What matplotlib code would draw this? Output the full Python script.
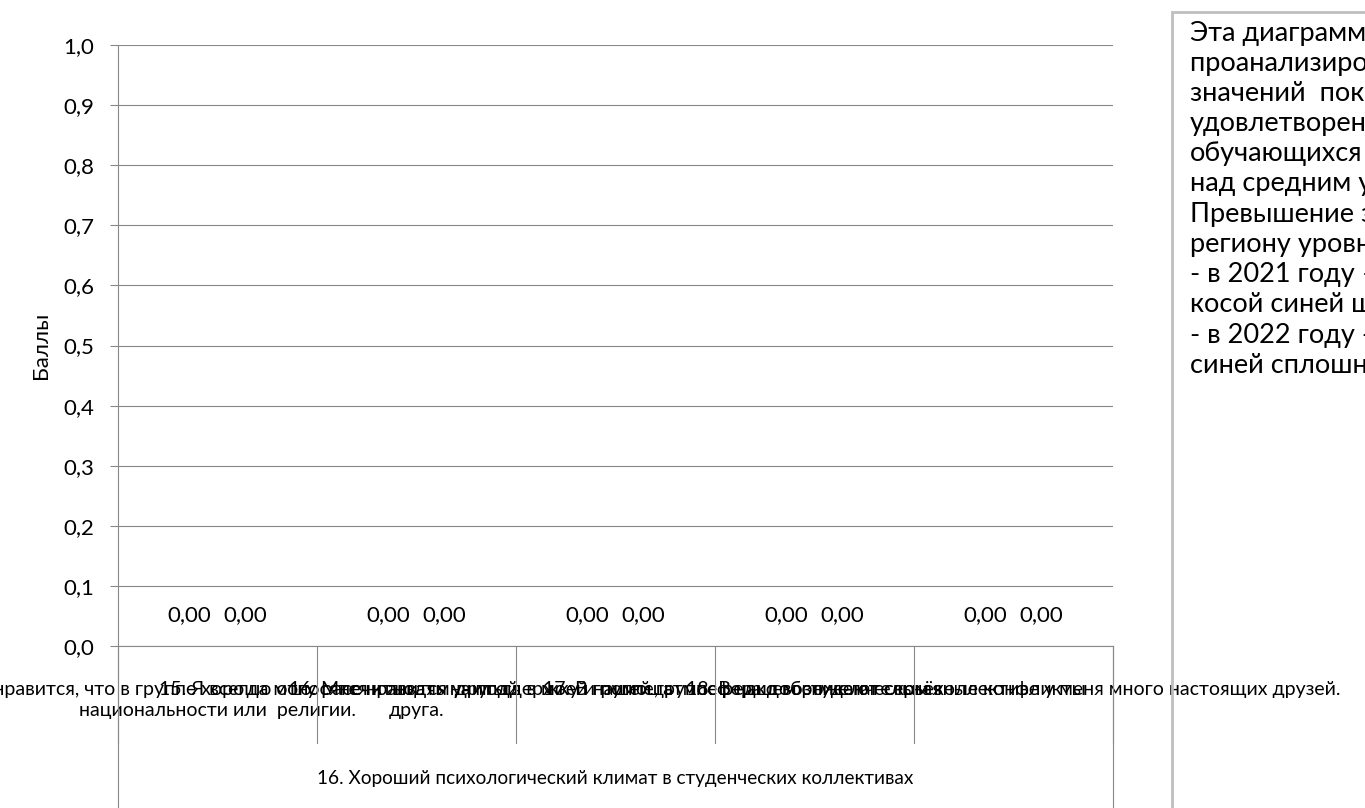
import numpy as np
import matplotlib.pyplot as plt
from matplotlib.patches import Rectangle

plt.rcParams['font.family'] = ['Lato', 'DejaVu Sans']

# Chart data
categories = [
    "14. Мне нравится, что в группе хорошо относятся к людям другой\nнациональности или  религии.",
    "15. Я всегда могу рассчитывать на поддержку и помощь\nдруга.",
    "16. Мне нравится учиться в моей группе, атмосфера доброжелательная",
    "17. В нашей группе редко возникают серьёзные конфликты",
    "18. В нашем студенческом коллективе у меня много настоящих друзей.",
]
group_label = "16. Хороший психологический климат в студенческих коллективах"
values_2021 = [0.0, 0.0, 0.0, 0.0, 0.0]
values_2022 = [0.0, 0.0, 0.0, 0.0, 0.0]
y_ticks = [0.0, 0.1, 0.2, 0.3, 0.4, 0.5, 0.6, 0.7, 0.8, 0.9, 1.0]

note_lines = [
    "Эта диаграмма позволяет",
    "проанализировать превышение",
    "значений  показателей",
    "удовлетворенности",
    "обучающихся",
    "над средним уровнем",
    "Превышение значений по",
    "региону уровню",
    "- в 2021 году – показано",
    "косой синей штриховкой,",
    "- в 2022 году - показано",
    "синей сплошной заливкой.",
]

fig = plt.figure(figsize=(13.65, 8.08), dpi=100)
ax = fig.add_axes([0.0864, 0.2005, 0.729, 0.7438])

x = np.arange(len(categories))
w = 0.28
b1 = ax.bar(x - w / 2, values_2021, w, color='#4472c4')
b2 = ax.bar(x + w / 2, values_2022, w, color='#4472c4')
fmt = lambda vals: [f"{v:.2f}".replace('.', ',') for v in vals]
ax.bar_label(b1, labels=fmt(values_2021), padding=15, fontsize=16)
ax.bar_label(b2, labels=fmt(values_2022), padding=15, fontsize=16)

ax.set_xlim(-0.5, len(categories) - 0.5)
ax.set_ylim(0, 1.0)
ax.set_yticks(y_ticks)
ax.set_yticklabels([f"{t:.1f}".replace('.', ',') for t in y_ticks], fontsize=16)
ax.yaxis.grid(True, color='#888888', lw=0.8)
ax.set_axisbelow(True)
ax.tick_params(axis='y', length=6, color='#888888', pad=11)
ax.set_ylabel("Баллы", fontsize=16, labelpad=9)

for s in ['top', 'right']:
    ax.spines[s].set_visible(False)
for s in ['left', 'bottom']:
    ax.spines[s].set_color('#888888')

ax.set_xticks(x)
ax.set_xticklabels(categories, fontsize=14, linespacing=1.3)
ax.tick_params(axis='x', length=0, pad=25)

# category separators and group box lines
trans = ax.get_xaxis_transform()
for bnd in np.arange(-0.5, len(categories), 1.0):
    ax.plot([bnd, bnd], [0, -0.162], transform=trans, color='#888888', lw=0.8, clip_on=False)
for bnd in [-0.5, len(categories) - 0.5]:
    ax.plot([bnd, bnd], [0, -0.28], transform=trans, color='#888888', lw=0.8, clip_on=False)
ax.text((len(categories) - 1) / 2, -0.22, group_label, transform=trans,
        ha='center', va='center', fontsize=13.7)

# text box on the right
fig.patches.append(Rectangle((1172 / 1365, -0.1), 0.3, (808 - 12) / 808 + 0.1,
                             transform=fig.transFigure, fill=False,
                             edgecolor='#bfbfbf', lw=2))
for i, line in enumerate(note_lines):
    fig.text(1190 / 1365, 1 - (33 + i * 30.2) / 808, line, fontsize=19.5,
             ha='left', va='center')

fig.savefig('out.png', dpi=100)
